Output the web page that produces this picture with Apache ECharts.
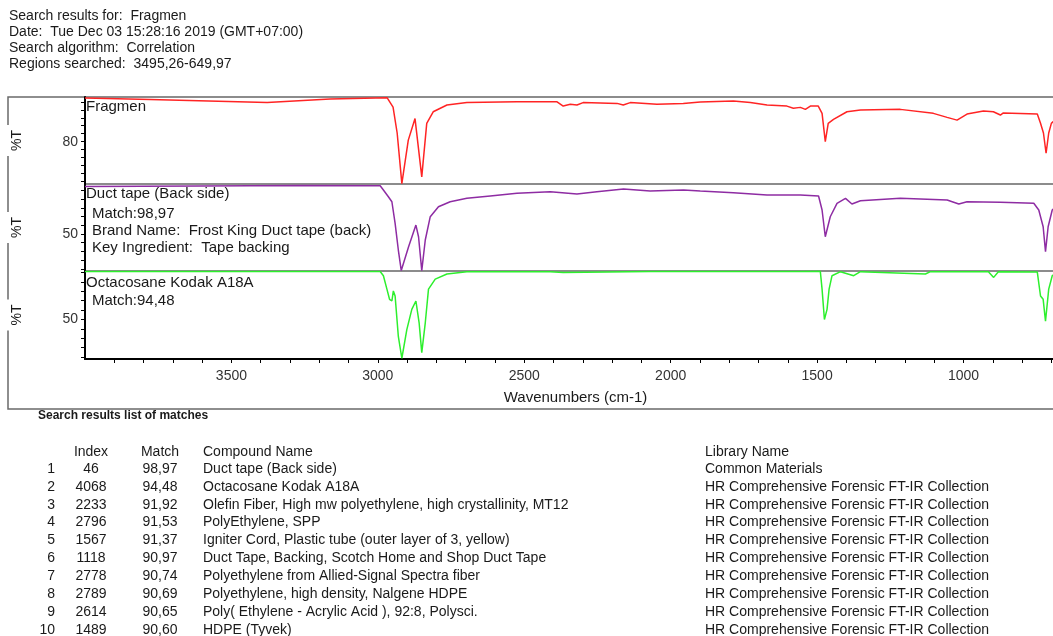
<!DOCTYPE html>
<html>
<head>
<meta charset="utf-8">
<script src="https://cdn.jsdelivr.net/npm/echarts@6/dist/echarts.min.js"></script>
<style>
  html, body { margin: 0; padding: 0; background: #fff; }
  #chart { width: 1053px; height: 636px; }
</style>
</head>
<body>
<div id="chart"></div>
<script>
// header block
const headerLines = [
  'Search results for:  Fragmen',
  'Date:  Tue Dec 03 15:28:16 2019 (GMT+07:00)',
  'Search algorithm:  Correlation',
  'Regions searched:  3495,26-649,97'
];

// x axis (wavenumbers)
const xTicks = [3900, 3800, 3700, 3600, 3500, 3400, 3300, 3200, 3100, 3000, 2900, 2800, 2700, 2600, 2500,
  2400, 2300, 2200, 2100, 2000, 1900, 1800, 1700, 1600, 1500, 1400, 1300, 1200, 1100, 1000, 900, 800, 700];
const xLabels = [3500, 3000, 2500, 2000, 1500, 1000];

// spectrum 1 : Fragmen (unknown)
const fragmenWn = [4000, 3778, 3378, 3163, 2968, 2948, 2934, 2918, 2896, 2873, 2850, 2833, 2811, 2764, 2696,
  2525, 2388, 2367, 2343, 2320, 2299, 2183, 2162, 2138, 2047, 1957, 1899, 1786, 1728, 1671, 1603, 1581,
  1557, 1540, 1523, 1496, 1483, 1472, 1462, 1444, 1398, 1352, 1216, 1103, 1056, 1022, 988, 932, 898, 874,
  864, 748, 737, 727, 718, 709, 700, 683, 652];
const fragmenT = [85.46, 85.28, 84.9, 85.34, 85.5, 84.34, 81.09, 74.75, 80.2, 82.9, 75.6, 82.3, 83.75, 84.6, 84.9,
  85.0, 85.0, 84.46, 84.68, 84.6, 84.9, 84.8, 84.6, 84.9, 84.7, 84.8, 84.96, 85.1, 84.9, 84.6, 84.46, 84.2,
  84.3, 84.05, 84.46, 84.46, 83.55, 80.0, 82.3, 82.8, 83.75, 83.96, 84.05, 83.55, 83.05, 82.7, 83.46, 83.84, 83.75, 83.34,
  83.6, 83.46, 82.3, 81.09, 78.55, 81.09, 82.3, 82.9, 83.1];

// spectrum 2 : Duct tape (Back side)
const ductWn = [4000, 3607, 3265, 2992, 2981, 2964, 2952, 2941, 2930, 2920, 2895, 2870, 2861, 2850, 2838,
  2821, 2793, 2753, 2696, 2616, 2525, 2411, 2320, 2252, 2161, 2070, 1956, 1899, 1786, 1671, 1557, 1495,
  1483, 1472, 1455, 1432, 1403, 1381, 1352, 1216, 1056, 1016, 988, 874, 760, 743, 728, 720, 711,
  697, 680, 652];
const ductT = [55.46, 55.52, 55.57, 55.55, 55.06, 54.29, 53.71, 51.23, 48.16, 45.8, 48.54, 51.03, 49.69, 45.8, 49.31,
  51.99, 53.14, 53.71, 54.1, 54.37, 54.68, 54.86, 54.6, 54.86, 55.17, 54.94, 55.06, 54.94, 54.75, 54.48, 54.48, 54.37,
  52.76, 49.69, 51.99, 53.53, 54.1, 53.45, 53.83, 54.1, 53.91, 53.45, 53.71, 53.64, 53.53, 52.76, 50.84, 47.97, 50.84,
  52.76, 53.3, 53.4];

// spectrum 3 : Octacosane Kodak A18A
const octaWn = [4000, 3500, 2992, 2981, 2969, 2960, 2952, 2947, 2941, 2930, 2918, 2901, 2884, 2870, 2859,
  2850, 2838, 2827, 2804, 2764, 2696, 2411, 2367, 2070, 1557, 1489, 1483, 1475, 1466, 1459, 1449, 1420,
  1375, 1352, 1130, 1113, 915, 897, 881, 748, 737, 728, 720, 709, 697, 680, 652];
const octaT = [55.1, 55.1, 55.1, 54.66, 53.23, 52.15, 51.97, 53.04, 52.5, 48.2, 45.88, 48.92, 51.08, 51.97, 49.65,
  46.48, 49.65, 53.23, 54.3, 54.84, 55.09, 55.08, 55.0, 55.1, 55.1, 55.13, 53.23, 50.0, 51.08, 53.23, 54.66, 55.09,
  54.66, 55.09, 54.84, 55.09, 55.09, 54.48, 55.09, 55.05, 52.5, 52.15, 49.82, 53.23, 54.66, 55.0, 55.05];

// panel y ranges, ticks and labels
const panelMin = [74.7, 45.75, 45.8];
const panelMax = [85.6, 55.75, 55.16];
const panelTicks = [
  [75, 76, 77, 78, 79, 80, 81, 82, 83, 84, 85],
  [46, 47, 48, 49, 50, 51, 52, 53, 54, 55],
  [46, 47, 48, 49, 50, 51, 52, 53, 54, 55]
];
const panelLabels = [[80], [50], [50]];
const panelNotes = [
  ['Fragmen'],
  ['Duct tape (Back side)', 'Match:98,97', 'Brand Name:  Frost King Duct tape (back)', 'Key Ingredient:  Tape backing'],
  ['Octacosane Kodak A18A', 'Match:94,48']
];

// match table
const tableTitle = 'Search results list of matches';
const tableHeader = ['Index', 'Match', 'Compound Name', 'Library Name'];
const matchRank = ['1', '2', '3', '4', '5', '6', '7', '8', '9', '10'];
const matchIndex = ['46', '4068', '2233', '2796', '1567', '1118', '2778', '2789', '2614', '1489'];
const matchScore = ['98,97', '94,48', '91,92', '91,53', '91,37', '90,97', '90,74', '90,69', '90,65', '90,60'];
const compoundNames = [
  'Duct tape (Back side)',
  'Octacosane Kodak A18A',
  'Olefin Fiber, High mw polyethylene, high crystallinity, MT12',
  'PolyEthylene, SPP',
  'Igniter Cord, Plastic tube (outer layer of 3, yellow)',
  'Duct Tape, Backing, Scotch Home and Shop Duct Tape',
  'Polyethylene from Allied-Signal Spectra fiber',
  'Polyethylene, high density, Nalgene HDPE',
  'Poly( Ethylene - Acrylic Acid ), 92:8, Polysci.',
  'HDPE (Tyvek)'
];
const libraryNames = [
  'Common Materials',
  'HR Comprehensive Forensic FT-IR Collection',
  'HR Comprehensive Forensic FT-IR Collection',
  'HR Comprehensive Forensic FT-IR Collection',
  'HR Comprehensive Forensic FT-IR Collection',
  'HR Comprehensive Forensic FT-IR Collection',
  'HR Comprehensive Forensic FT-IR Collection',
  'HR Comprehensive Forensic FT-IR Collection',
  'HR Comprehensive Forensic FT-IR Collection',
  'HR Comprehensive Forensic FT-IR Collection'
];

const FONT = '"Liberation Sans", Arial, sans-serif';
const colors = ['#ff2424', '#8e2ca3', '#2def2d'];
const spectra = [[fragmenWn, fragmenT], [ductWn, ductT], [octaWn, octaT]];
const gridTops = [97, 184, 271];
const gridHeights = [87, 87, 88];

function txt(text, x, y, opt) {
  opt = opt || {};
  return {
    type: 'text', x: x, y: y, silent: true, z: 10,
    style: {
      text: text,
      fill: opt.fill || '#1a1a1a',
      font: (opt.weight || 'normal') + ' ' + (opt.size || 14) + 'px ' + FONT,
      align: opt.align || 'left',
      verticalAlign: 'middle'
    }
  };
}

const graphics = [];
// outer frame around the spectra
graphics.push({
  type: 'rect', z: -1, silent: true,
  shape: { x: 8, y: 97, width: 1100, height: 312 },
  style: { fill: null, stroke: '#6a6a6a', lineWidth: 1.5 }
});
headerLines.forEach((t, i) => graphics.push(txt(t, 9, 16.5 + i * 16)));

// notes inside the panels
const noteY = [[106.5], [194, 213.5, 231, 248], [282.5, 301]];
panelNotes.forEach((lines, p) => {
  lines.forEach((t, i) => graphics.push(txt(t, i === 0 ? 86 : 92, noteY[p][i], { size: 15 })));
});

// table
graphics.push(txt(tableTitle, 38, 416, { size: 12, weight: 'bold' }));
const rowY0 = 469, rowStep = 17.85, headY = 452;
graphics.push(txt(tableHeader[0], 91, headY, { align: 'center' }));
graphics.push(txt(tableHeader[1], 160, headY, { align: 'center' }));
graphics.push(txt(tableHeader[2], 203, headY));
graphics.push(txt(tableHeader[3], 705, headY));
for (let i = 0; i < matchRank.length; i++) {
  const y = rowY0 + i * rowStep;
  graphics.push(txt(matchRank[i], 55, y, { align: 'right' }));
  graphics.push(txt(matchIndex[i], 91, y, { align: 'center' }));
  graphics.push(txt(matchScore[i], 160, y, { align: 'center' }));
  graphics.push(txt(compoundNames[i], 203, y));
  graphics.push(txt(libraryNames[i], 705, y));
}

const grids = [], xAxes = [], yAxes = [], series = [];
for (let p = 0; p < 3; p++) {
  const last = p === 2;
  grids.push({
    left: 85, top: gridTops[p], width: 981, height: gridHeights[p],
    outerBoundsMode: 'none', containLabel: false,
    show: true, borderColor: '#8c8c8c', borderWidth: 2, backgroundColor: 'transparent'
  });
  xAxes.push({
    type: 'value', gridIndex: p, min: 650, max: 4000, inverse: true,
    splitLine: { show: false },
    axisLine: { show: last, onZero: false, lineStyle: { color: '#000', width: 2 } },
    axisTick: { show: last, customValues: xTicks, length: 4, lineStyle: { color: '#000' } },
    axisLabel: {
      show: last, customValues: xLabels, margin: 10, color: '#333', fontSize: 14, fontFamily: FONT,
      formatter: v => String(v)
    },
    name: last ? 'Wavenumbers (cm-1)' : '',
    nameLocation: 'middle', nameGap: 31,
    nameTextStyle: { color: '#1a1a1a', fontSize: 15, fontFamily: FONT }
  });
  yAxes.push({
    type: 'value', gridIndex: p, min: panelMin[p], max: panelMax[p],
    splitLine: { show: false },
    axisLine: { show: true, lineStyle: { color: '#000', width: 2 } },
    axisTick: { show: true, customValues: panelTicks[p], length: 4, lineStyle: { color: '#000' } },
    axisLabel: {
      customValues: panelLabels[p], margin: 7, color: '#333', fontSize: 14, fontFamily: FONT,
      formatter: v => String(v)
    },
    name: '%T', nameLocation: 'middle', nameGap: 60, nameRotate: 90,
    nameTextStyle: {
      color: '#1a1a1a', fontSize: 14, fontFamily: FONT,
      backgroundColor: '#fff', padding: [6, 5, 1, 5]
    }
  });
  const wn = spectra[p][0], t = spectra[p][1];
  series.push({
    type: 'line', xAxisIndex: p, yAxisIndex: p,
    data: wn.map((w, i) => [w, t[i]]),
    showSymbol: false, symbol: 'none', animation: false,
    lineStyle: { color: colors[p], width: 1.5 }
  });
}

const chart = echarts.init(document.getElementById('chart'), null, { renderer: 'canvas' });
chart.setOption({
  backgroundColor: '#fff',
  animation: false,
  grid: grids,
  xAxis: xAxes,
  yAxis: yAxes,
  series: series,
  graphic: graphics
});
</script>
</body>
</html>
